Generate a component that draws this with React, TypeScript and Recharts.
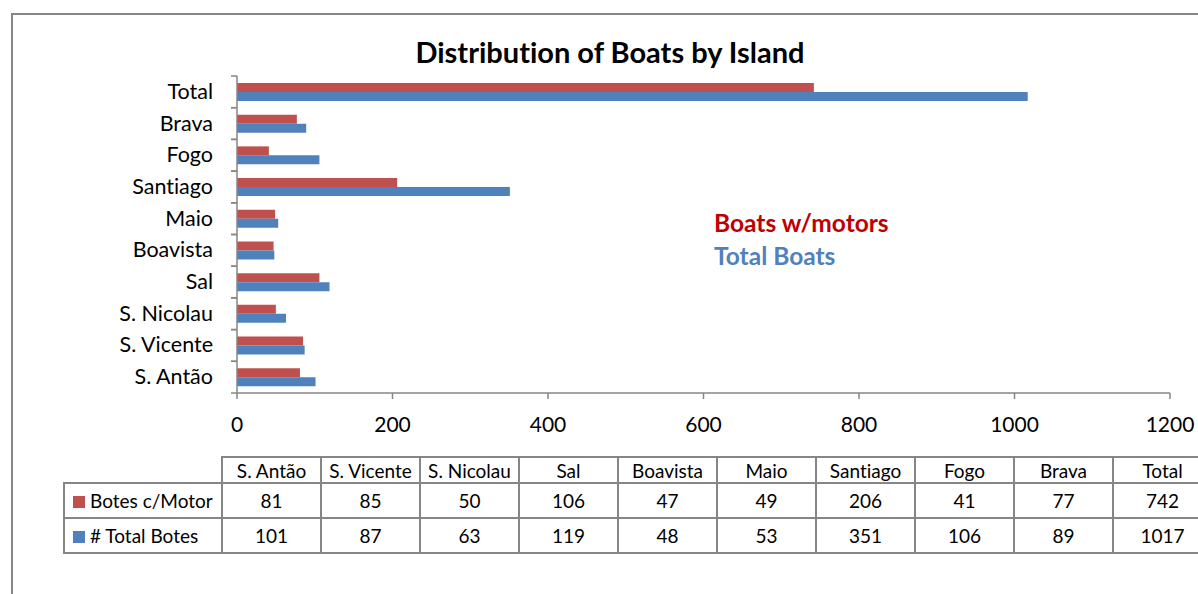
import React from 'react';
import { BarChart, Bar, XAxis, YAxis } from 'recharts';

const islands = ['S. Antão', 'S. Vicente', 'S. Nicolau', 'Sal', 'Boavista', 'Maio', 'Santiago', 'Fogo', 'Brava', 'Total'];
const motorBoats = [81, 85, 50, 106, 47, 49, 206, 41, 77, 742];
const totalBoats = [101, 87, 63, 119, 48, 53, 351, 106, 89, 1017];
const xTicks = [0, 200, 400, 600, 800, 1000, 1200];
const seriesNames = ['Botes c/Motor', '# Total Botes'];
const legendLabels = ['Boats w/motors', 'Total Boats'];

const RED = '#C0504D';
const BLUE = '#4F81BD';
const GRID = '#868686';
const FONT = 'Lato, "Open Sans", sans-serif';

const data = islands.map((island, i) => ({
  island,
  motor: motorBoats[i],
  total: totalBoats[i],
}));

// excel puts the category ticks between the bands, not at the labels
const CategoryTick = (props: any) => {
  const { x, y, payload } = props;
  const half = payload.offset || 0;
  return (
    <g>
      <line x1={x + 18} x2={x + 24} y1={y - half} y2={y - half} stroke={GRID} strokeWidth={1.5} />
      <line x1={x + 18} x2={x + 24} y1={y + half} y2={y + half} stroke={GRID} strokeWidth={1.5} />
      <text
        x={x}
        y={y}
        dy={7}
        textAnchor="end"
        fontSize={21.5}
        fill="#000"
        fontFamily={FONT}
        style={{ fontVariantLigatures: 'none', fontFeatureSettings: '"liga" 0' }}
      >
        {payload.value}
      </text>
    </g>
  );
};

const cell: React.CSSProperties = {
  border: `2px solid ${GRID}`,
  textAlign: 'center',
  padding: 0,
};

export default function App() {
  const rows = [
    { name: seriesNames[0], color: RED, values: motorBoats },
    { name: seriesNames[1], color: BLUE, values: totalBoats },
  ];
  return (
    <div
      style={{
        position: 'absolute',
        left: 0,
        top: 0,
        width: 1198,
        height: 594,
        overflow: 'hidden',
        background: '#fff',
        fontFamily: FONT,
        fontVariantLigatures: 'none',
      }}
    >
      <div style={{ position: 'absolute', left: 11, top: 13, width: 1400, height: 800, border: `2px solid ${GRID}` }} />
      <div style={{ position: 'absolute', left: 0, top: 34, width: 1220, textAlign: 'center', fontWeight: 700, fontSize: 29, color: '#000' }}>
        Distribution of Boats by Island
      </div>
      <div style={{ position: 'absolute', left: 0, top: 0 }}>
        <BarChart
          width={1198}
          height={440}
          data={data}
          layout="vertical"
          margin={{ top: 76, right: 28, left: 0, bottom: 0 }}
          barCategoryGap="22%"
          barGap={0}
        >
          <XAxis
            type="number"
            domain={[0, 1200]}
            ticks={xTicks}
            height={47}
            stroke={GRID}
            tickSize={6}
            tickMargin={18}
            tick={{ fontSize: 21, fill: '#000', fontFamily: FONT }}
            axisLine={{ stroke: GRID, strokeWidth: 1.5 }}
            tickLine={{ stroke: GRID, strokeWidth: 1.5 }}
          />
          <YAxis
            type="category"
            dataKey="island"
            reversed
            width={237}
            interval={0}
            tickLine={false}
            tickSize={0}
            tick={<CategoryTick />}
            tickMargin={24}
            axisLine={{ stroke: GRID, strokeWidth: 1.5 }}
          />
          <Bar dataKey="motor" name={legendLabels[0]} fill={RED} isAnimationActive={false} />
          <Bar dataKey="total" name={legendLabels[1]} fill={BLUE} isAnimationActive={false} />
        </BarChart>
      </div>
      <div style={{ position: 'absolute', left: 714, top: 206, fontWeight: 700, fontSize: 24.5, lineHeight: '33px' }}>
        <div style={{ color: '#C00000' }}>{legendLabels[0]}</div>
        <div style={{ color: BLUE }}>{legendLabels[1]}</div>
      </div>
      <table
        style={{
          position: 'absolute',
          left: 63,
          top: 456,
          width: 1148,
          borderCollapse: 'collapse',
          fontSize: 19,
          color: '#000',
          tableLayout: 'fixed',
        }}
      >
        <colgroup>
          <col style={{ width: 158 }} />
          {islands.map((name) => (
            <col key={name} style={{ width: 99 }} />
          ))}
        </colgroup>
        <tbody>
          <tr style={{ height: 26 }}>
            <td style={{ border: 'none', borderRight: `2px solid ${GRID}` }} />
            {islands.map((name) => (
              <td key={name} style={cell}>{name}</td>
            ))}
          </tr>
          {rows.map((r) => (
            <tr key={r.name} style={{ height: 35 }}>
              <td style={{ ...cell, textAlign: 'left', paddingLeft: 8, whiteSpace: 'nowrap' }}>
                <span style={{ display: 'inline-block', width: 12, height: 12, background: r.color, marginRight: 5 }} />
                {r.name}
              </td>
              {r.values.map((v, i) => (
                <td key={i} style={cell}>{v}</td>
              ))}
            </tr>
          ))}
        </tbody>
      </table>
    </div>
  );
}
